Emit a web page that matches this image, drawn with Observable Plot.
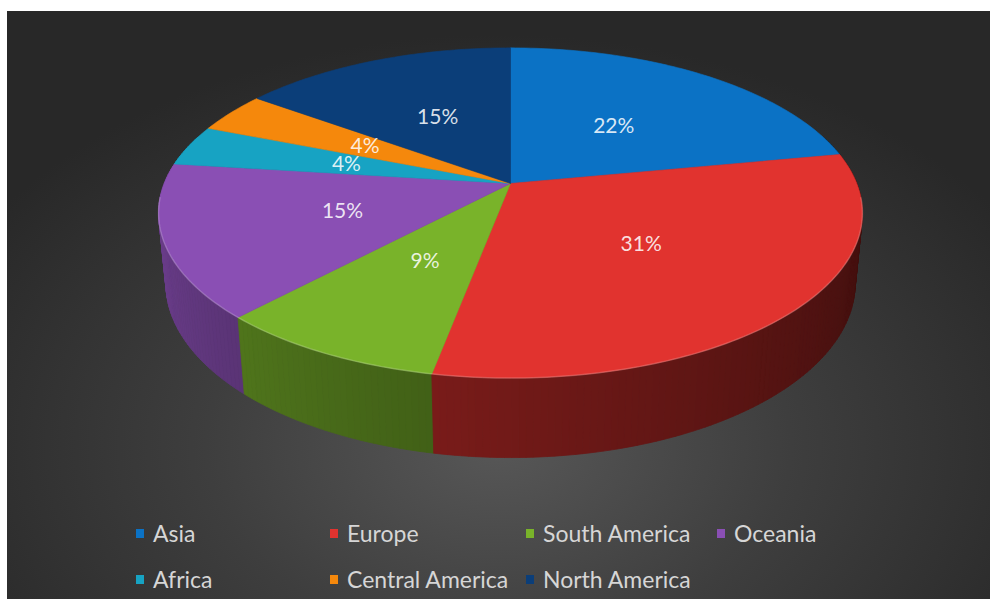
<!DOCTYPE html>
<html>
<head>
<meta charset="utf-8">
<script src="https://cdn.jsdelivr.net/npm/d3@7"></script>
<script src="https://cdn.jsdelivr.net/npm/@observablehq/plot@0.6"></script>
<style>
  html, body { margin: 0; padding: 0; background: #ffffff; }
  #wrap { position: relative; width: 990px; height: 599px; overflow: hidden; background: #ffffff; }
  #panel { position: absolute; left: 7px; top: 11px; width: 983px; height: 588px;
    background: radial-gradient(ellipse 62% 70% at 50% 74%, #575757 0%, #3e3e3e 48%, #282828 100%); }
  #chart { position: absolute; left: 0; top: 0; }
  #legend { position: absolute; left: 136px; top: 518px; display: grid;
    grid-template-columns: 194px 196px 191px auto; grid-auto-rows: 30px; row-gap: 16px;
    font-family: Lato, "Open Sans", sans-serif; font-size: 23px; color: #d6d6d6; }
  .item { display: flex; align-items: center; white-space: nowrap; }
  .sw { width: 8px; height: 9px; margin-right: 9px; flex: none; }
</style>
</head>
<body>
<div id="wrap">
  <div id="panel"></div>
  <div id="chart"></div>
  <div id="legend"></div>
</div>
<script>
// ---- data ----
const regions = ["Asia", "Europe", "South America", "Oceania", "Africa", "Central America", "North America"];
const shares = [22, 31, 9, 15, 4, 4, 15];
const colors = ["#0b72c5", "#e1332f", "#79b32a", "#8a4fb4", "#17a3c3", "#f5880c", "#0b3e79"];
const labels = ["22%", "31%", "9%", "15%", "4%", "4%", "15%"];

// ---- 3D pie camera (layout) ----
const D = 4.99, H = 0.226, tilt = 27 * Math.PI / 180;
const sp = Math.sin(tilt), cp = Math.cos(tilt);
const FX = 1728, FY = 1757, CX = 510, CY = 183;
function proj(thetaDeg, r, h) {
  const t = thetaDeg * Math.PI / 180;
  const x = r * Math.sin(t), yh = r * Math.cos(t);
  const Yc = yh * sp + h * cp;
  const Zc = D + yh * cp - h * sp;
  return {u: x / Zc, v: Yc / Zc};
}

const total = d3.sum(shares);
let acc = 0;
const slices = regions.map((name, i) => {
  const a0 = acc / total * 360;
  acc += shares[i];
  const a1 = acc / total * 360;
  return {name, i, a0, a1, color: colors[i], label: labels[i]};
});

// top faces
const topRows = [];
for (const s of slices) {
  const c = proj(0, 0, 0);
  topRows.push({id: s.name, ...c, fill: s.color});
  const n = Math.max(2, Math.ceil(s.a1 - s.a0));
  for (let k = 0; k <= n; k++) {
    const th = s.a0 + (s.a1 - s.a0) * k / n;
    topRows.push({id: s.name, ...proj(th, 1, 0), fill: s.color});
  }
  topRows.push({id: s.name, ...c, fill: s.color});
}

// side walls (front-facing segments, far first)
const segs = [];
for (const s of slices) {
  const n = Math.max(1, Math.ceil(s.a1 - s.a0));
  for (let k = 0; k < n; k++) {
    const t0 = s.a0 + (s.a1 - s.a0) * k / n;
    const t1 = s.a0 + (s.a1 - s.a0) * (k + 1) / n;
    const mid = (t0 + t1) / 2;
    const cm = Math.cos(mid * Math.PI / 180);
    if (cm > 0.3) continue;
    const tt = Math.min(1, Math.max(0, (mid - 90) / 180));
    const f = 0.28 + 0.55 * Math.pow(tt, 1.3);
    const b = d3.rgb(s.color);
    const fill = d3.rgb(b.r * f, b.g * f, b.b * f).formatHex();
    segs.push({cm, id: s.name + "-" + k, fill, t0, t1});
  }
}
segs.sort((a, b) => b.cm - a.cm);
const wallRows = [];
for (const g of segs) {
  for (const [th, h] of [[g.t0, 0], [g.t1, 0], [g.t1, -H], [g.t0, -H], [g.t0, 0]]) {
    wallRows.push({id: g.id, ...proj(th, 1, h), fill: g.fill});
  }
}

// front rim highlight
const rimRows = d3.range(95, 266, 1).map(th => proj(th, 1, 0));

// labels
const labelRows = slices.map(s => ({...proj((s.a0 + s.a1) / 2, 0.5, 0), text: s.label}));

const chart = Plot.plot({
  width: 990,
  height: 599,
  margin: 0,
  x: {domain: [-CX / FX, (990 - CX) / FX], range: [0, 990], axis: null},
  y: {domain: [CY / FY, -(599 - CY) / FY], range: [0, 599], axis: null},
  color: {type: "identity"},
  style: {background: "transparent", overflow: "visible"},
  marks: [
    Plot.line(wallRows, {x: "u", y: "v", z: "id", fill: "fill", stroke: "fill", strokeWidth: 0.8}),
    Plot.line(topRows, {x: "u", y: "v", z: "id", fill: "fill", stroke: "fill", strokeWidth: 0.6}),
    Plot.line(rimRows, {x: "u", y: "v", stroke: "#ffffff", strokeOpacity: 0.2, strokeWidth: 1.5}),
    Plot.text(labelRows, {x: "u", y: "v", text: "text", fill: "#ffffff", fillOpacity: 0.85,
      fontSize: 21, fontFamily: "Lato, 'Open Sans', sans-serif", textAnchor: "middle"})
  ]
});
document.getElementById("chart").appendChild(chart);

// legend
const legend = d3.select("#legend");
regions.forEach((name, i) => {
  const it = legend.append("div").attr("class", "item");
  it.append("span").attr("class", "sw").style("background", colors[i]);
  it.append("span").text(name);
});
</script>
</body>
</html>
